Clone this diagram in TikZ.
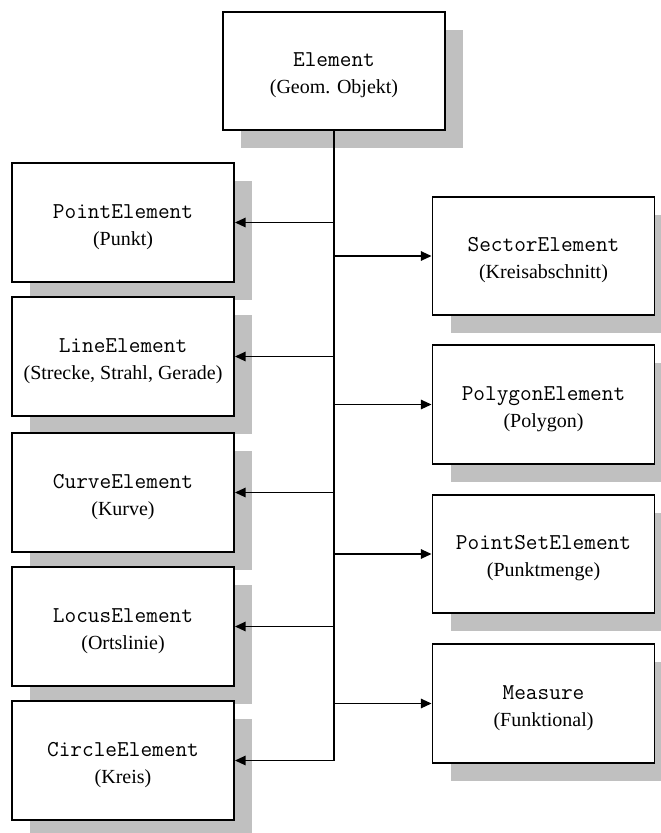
\documentclass[tikz,border=0pt]{standalone}
\usepackage{fontspec}
\setmainfont{Liberation Serif}
\usetikzlibrary{arrows.meta,shadows}
\definecolor{shadowgray}{HTML}{C0C0C0}
% class name in a typewriter face, description in serif;
% the strut sets the text slightly below the box centre
\newcommand{\clsname}[1]{{\rule{0pt}{17pt}\ttfamily\fontsize{17}{20.25}\selectfont #1}}
\begin{document}
\begin{tikzpicture}[x=0.75pt,y=-0.75pt,
  classbox/.style={draw=black, line width=1.4pt, fill=white,
    minimum width=166.5pt, minimum height=89pt, inner sep=0pt,
    align=center, font=\fontsize{15}{20.25}\selectfont,
    drop shadow={shadow xshift=13.5pt, shadow yshift=-13.5pt,
      fill=shadowgray, opacity=1, draw=none}},
  link/.style={line width=1.4pt, -{Triangle[length=8pt,width=7pt]}}]
\clip (0,0) rectangle (661,833);
\fill[white] (0,0) rectangle (661,833);

% root
\node[classbox] (elem) at (334,71) {\clsname{Element}\\(Geom. Objekt)};

% left column
\node[classbox] (point)  at (123,222.5) {\clsname{PointElement}\\(Punkt)};
\node[classbox] (line)   at (123,356.5) {\clsname{LineElement}\\(Strecke, Strahl, Gerade)};
\node[classbox] (curve)  at (123,492.5) {\clsname{CurveElement}\\(Kurve)};
\node[classbox] (locus)  at (123,626.5) {\clsname{LocusElement}\\(Ortslinie)};
\node[classbox] (circle) at (123,760.5) {\clsname{CircleElement}\\(Kreis)};

% right column
\node[classbox] (sector)  at (543.5,256)   {\clsname{SectorElement}\\(Kreisabschnitt)};
\node[classbox] (polygon) at (543.5,404.5) {\clsname{PolygonElement}\\(Polygon)};
\node[classbox] (pset)    at (543.5,554)   {\clsname{PointSetElement}\\(Punktmenge)};
\node[classbox] (measure) at (543.5,703.5) {\clsname{Measure}\\(Funktional)};

% trunk ending in the last child
\draw[link] (elem.south) |- (circle.east);

% branches
\foreach \n in {point,line,curve,locus}
  \draw[link] (elem.south |- \n.east) -- (\n.east);
\foreach \n in {sector,polygon,pset,measure}
  \draw[link] (elem.south |- \n.west) -- (\n.west);
\end{tikzpicture}
\end{document}
